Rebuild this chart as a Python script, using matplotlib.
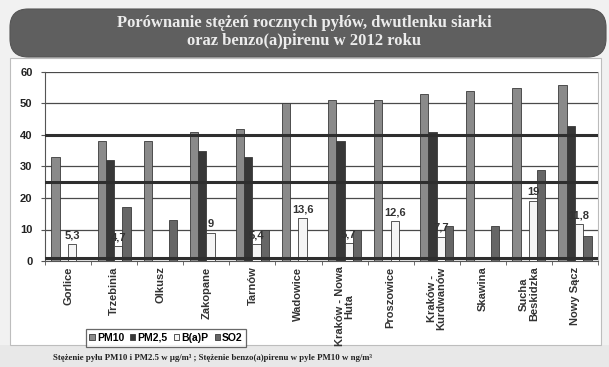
import matplotlib
matplotlib.use('Agg')
import matplotlib.pyplot as plt
from matplotlib.patches import FancyBboxPatch, Rectangle
import numpy as np

plt.rcParams['font.family'] = ['Liberation Sans', 'DejaVu Sans']

cities = ['Gorlice', 'Trzebinia', 'Olkusz', 'Zakopane', 'Tarnów', 'Wadowice',
          'Kraków - Nowa\nHuta', 'Proszowice', 'Kraków -\nKurdwanów', 'Skawina',
          'Sucha\nBeskidzka', 'Nowy Sącz']
pm10 = [33, 38, 38, 41, 42, 50, 51, 51, 53, 54, 55, 56]
pm25 = [0, 32, 0, 35, 33, 0, 38, 0, 41, 0, 0, 43]
bap = [5.3, 4.7, 0, 9, 5.4, 13.6, 5.7, 12.6, 7.7, 0, 19, 11.8]
so2 = [0, 17, 13, 0, 10, 0, 10, 0, 11, 11, 29, 8]
bap_labels = ['5,3', '4,7', '', '9', '5,4', '13,6', '5,7', '12,6', '7,7', '', '19', '11,8']
series_names = ['PM10', 'PM2,5', 'B(a)P', 'SO2']
limits = [40, 25, 1]

W, H = 609, 367
fig = plt.figure(figsize=(W / 100, H / 100), dpi=100)
fig.patch.set_facecolor('#f1f1f1')

# white chart panel + bottom band
fig.patches.append(Rectangle((0, 0), 1, 1 - 345 / H, transform=fig.transFigure,
                             facecolor='#e8e8e8', edgecolor='none', zorder=-2))
fig.patches.append(Rectangle((10 / W, 1 - 345 / H), 591 / W, 287 / H, transform=fig.transFigure,
                             facecolor='white', edgecolor='#bdbdbd', lw=0.8, zorder=-2))
# title banner
fig.patches.append(FancyBboxPatch((10 / W, 1 - 57 / H), 596 / W, 48 / H,
                                  boxstyle='round,pad=0,rounding_size=0.03',
                                  transform=fig.transFigure, facecolor='#5f5f5f',
                                  edgecolor='#555555', lw=0.8, zorder=-1,
                                  mutation_aspect=W / H))
fig.text(0.5, 1 - 32 / H, 'Porównanie stężeń rocznych pyłów, dwutlenku siarki\noraz benzo(a)pirenu w 2012 roku',
         ha='center', va='center', color='#ececec', fontsize=12, fontweight='bold',
         family=['Liberation Serif', 'DejaVu Serif'], linespacing=1.15, zorder=2)

ax = fig.add_axes([45 / W, 1 - 261 / H, 553 / W, 189 / H])
ax.set_zorder(3)
x = np.arange(len(cities))
bw = 0.18
colors = ['#8a8a8a', '#373737', '#f5f5f5', '#666666']
data = [pm10, pm25, bap, so2]
bars = []
for i, (vals, c, name) in enumerate(zip(data, colors, series_names)):
    b = ax.bar(x + (i - 1.5) * bw, vals, bw, color=c, edgecolor='#3a3a3a', lw=0.6,
               label=name, zorder=3)
    bars.append(b)

for xi, v, lab in zip(x, bap, bap_labels):
    if lab:
        ax.text(xi + 0.5 * bw, v + 1.2, lab, ha='center', va='bottom', fontsize=8,
                fontweight='bold', color='#333333', zorder=5)

ax.set_ylim(0, 60)
ax.set_xlim(-0.5, len(cities) - 0.5)
ax.set_yticks(range(0, 61, 10))
ax.yaxis.grid(True, color='#4a4a4a', lw=0.9)
ax.set_axisbelow(True)
for lv in limits:
    ax.axhline(lv, color='#2e2e2e', lw=2.2, zorder=4)

ax.set_xticks(x)
ax.set_xticklabels(cities, rotation=90, fontsize=8, fontweight='bold', color='#333333',
                   linespacing=1.0)
ax.tick_params(axis='x', length=0, pad=4)
ax.set_xticks(np.arange(-0.5, len(cities), 1), minor=True)
ax.tick_params(axis='x', which='minor', length=3, color='#555555')
ax.tick_params(axis='y', length=3, color='#555555', labelsize=8, labelcolor='#222222', pad=6)
for t in ax.get_yticklabels():
    t.set_fontweight('bold')
ax.spines['top'].set_visible(False)
ax.spines['right'].set_color('#bbbbbb')
ax.spines['left'].set_color('#555555')
ax.spines['bottom'].set_color('#555555')

leg = fig.legend(handles=bars, labels=series_names, loc='center', ncol=4,
                 bbox_to_anchor=(166 / W, 1 - 338 / H),
                 prop={'weight': 'bold', 'size': 7.5}, handlelength=0.5, handleheight=0.5,
                 handletextpad=0.2, columnspacing=0.6, fancybox=False,
                 edgecolor='#444444', borderpad=0.35, borderaxespad=0)
leg.get_frame().set_linewidth(0.9)
leg.set_zorder(6)

fig.text(53 / W, 1 - 358 / H,
         'Stężenie pyłu PM10 i PM2.5 w µg/m³ ; Stężenie benzo(a)pirenu w pyle PM10 w ng/m³',
         ha='left', va='center', fontsize=6.3, fontweight='bold', color='#222222',
         family=['Liberation Serif', 'DejaVu Serif'])

fig.savefig('out.png', dpi=100, facecolor=fig.get_facecolor())
